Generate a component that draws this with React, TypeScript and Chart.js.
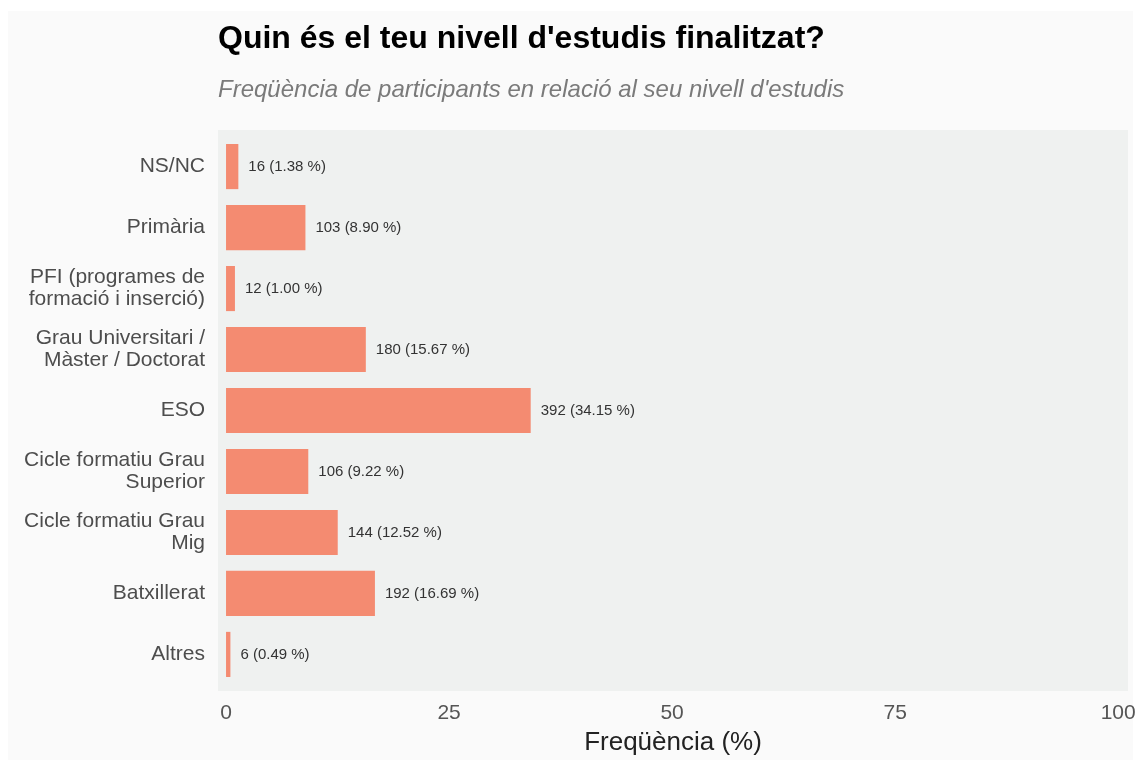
import React, { useEffect, useRef } from "react";
import { Chart, registerables } from "chart.js";

Chart.register(...registerables);

const categories: (string | string[])[] = [
  "NS/NC",
  "Primària",
  ["PFI (programes de", "formació i inserció)"],
  ["Grau Universitari /", "Màster / Doctorat"],
  "ESO",
  ["Cicle formatiu Grau", "Superior"],
  ["Cicle formatiu Grau", "Mig"],
  "Batxillerat",
  "Altres",
];
const counts = [16, 103, 12, 180, 392, 106, 144, 192, 6];
const percents = [1.38, 8.9, 1.0, 15.67, 34.15, 9.22, 12.52, 16.69, 0.49];
const xTickValues = [0, 25, 50, 75, 100];

const titleText = "Quin és el teu nivell d'estudis finalitzat?";
const subtitleText = "Freqüència de participants en relació al seu nivell d'estudis";
const xAxisTitle = "Freqüència (%)";

const FONT = "'Liberation Sans', Arial, Helvetica, sans-serif";
const BAR_COLOR = "#f48b71";
const PANEL_COLOR = "#eff1f0";
const PAGE_BG = "#fafafa";

const W = 1133;
const BG_W = 1125;
const H = 749;

export default function App() {
  const ref = useRef<HTMLCanvasElement | null>(null);

  useEffect(() => {
    if (!ref.current) return;

    const decor = {
      id: "decor",
      beforeDraw(chart: any) {
        const { ctx, chartArea } = chart;
        ctx.save();
        ctx.fillStyle = PAGE_BG;
        ctx.fillRect(0, 0, BG_W, chart.height);
        ctx.fillStyle = PANEL_COLOR;
        ctx.fillRect(
          chartArea.left,
          chartArea.top,
          chartArea.right - chartArea.left,
          chartArea.bottom - chartArea.top
        );
        ctx.restore();
      },
      afterDatasetsDraw(chart: any) {
        const { ctx } = chart;
        const meta = chart.getDatasetMeta(0);
        ctx.save();
        ctx.font = `15px ${FONT}`;
        ctx.fillStyle = "#333333";
        ctx.textAlign = "left";
        ctx.textBaseline = "middle";
        meta.data.forEach((bar: any, i: number) => {
          const txt = `${counts[i]} (${percents[i].toFixed(2)} %)`;
          ctx.fillText(txt, bar.x + 10, bar.y);
        });
        ctx.restore();
      },
      afterDraw(chart: any) {
        const { ctx, chartArea } = chart;
        ctx.save();
        ctx.textAlign = "left";
        ctx.textBaseline = "alphabetic";
        ctx.fillStyle = "#000000";
        ctx.font = `bold 32px ${FONT}`;
        ctx.fillText(titleText, chartArea.left, 37);
        ctx.fillStyle = "#7a7a7a";
        ctx.font = `italic 24px ${FONT}`;
        ctx.fillText(subtitleText, chartArea.left, 86);
        ctx.restore();
      },
    };

    const chart = new Chart(ref.current, {
      type: "bar",
      data: {
        datasets: [
          {
            data: percents.map((p, i) => ({ x: p, y: i })),
            backgroundColor: BAR_COLOR,
            borderWidth: 0,
            categoryPercentage: 1,
            barPercentage: 0.74,
          },
        ],
      },
      options: {
        indexAxis: "y",
        responsive: false,
        animation: false,
        layout: { padding: { top: 119, right: 13, bottom: 0, left: 0 } },
        plugins: {
          legend: { display: false },
          tooltip: { enabled: false },
          title: { display: false },
        },
        scales: {
          x: {
            type: "linear",
            offset: false,
            min: -0.9,
            max: 101.1,
            grid: { display: false, drawTicks: false },
            border: { display: false },
            ticks: {
              stepSize: 25,
              includeBounds: false,
              padding: 10,
              color: "#555555",
              font: { family: FONT, size: 21 },
              callback: (v: any) => (xTickValues.includes(Number(v)) ? String(v) : ""),
            },
            title: {
              display: true,
              text: xAxisTitle,
              color: "#222222",
              font: { family: FONT, size: 26 },
              padding: { top: 0, bottom: 2 },
            },
            afterFit: (s: any) => {
              s.height = 69;
              s.paddingLeft = 0;
              s.paddingRight = 0;
            },
          },
          y: {
            type: "linear",
            offset: false,
            min: -0.6,
            max: 8.6,
            reverse: true,
            grid: { display: false, drawTicks: false },
            border: { display: false },
            ticks: {
              stepSize: 1,
              includeBounds: false,
              autoSkip: false,
              padding: 13,
              color: "#4d4d4d",
              font: { family: FONT, size: 21, lineHeight: 1.05 },
              callback: (v: any) =>
                Number.isInteger(Number(v)) && categories[Number(v)] !== undefined
                  ? (categories[Number(v)] as any)
                  : "",
            },
            afterFit: (s: any) => {
              s.width = 210;
              s.paddingTop = 0;
              s.paddingBottom = 0;
            },
          },
        },
      },
      plugins: [decor],
    });

    return () => chart.destroy();
  }, []);

  return (
    <div
      style={{
        position: "absolute",
        left: 8,
        top: 11,
        width: W,
        height: H,
      }}
    >
      <canvas ref={ref} width={W} height={H} style={{ display: "block", width: W, height: H }} />
    </div>
  );
}
